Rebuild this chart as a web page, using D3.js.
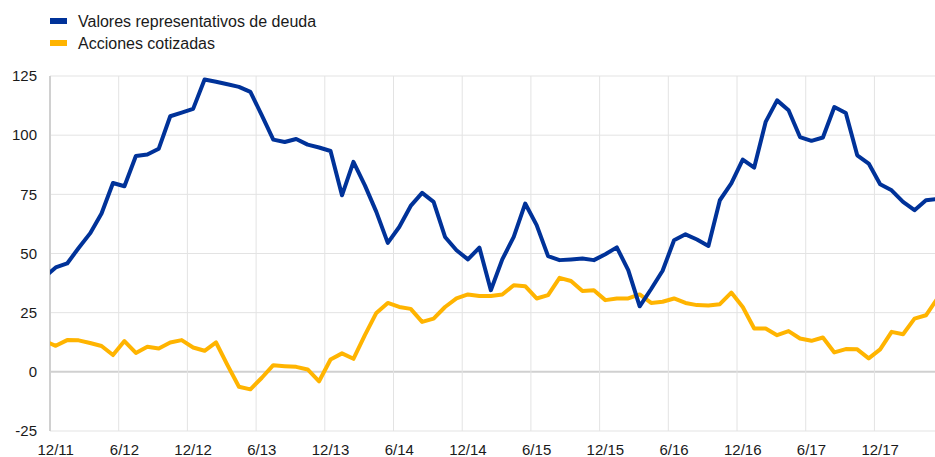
<!DOCTYPE html>
<html>
<head>
<meta charset="utf-8">
<script src="https://cdn.jsdelivr.net/npm/d3@7"></script>
<style>
  html, body { margin: 0; padding: 0; background: #fff; }
  svg { display: block; font-family: "Liberation Sans", Arial, sans-serif; }
</style>
</head>
<body>
<svg id="chart" width="935" height="457"></svg>
<script>
// Month index 0 = Dec 2011; first value is Nov 2011 (index -1), last is May 2018 (index 77)
const startIndex = -1;
const seriesNames = ["Valores representativos de deuda", "Acciones cotizadas"];
const seriesColors = ["#003299", "#FFB400"];
const debtSecurities = [
  40, 44.1, 45.8, 52.3, 58.5, 66.9, 79.8, 78.4, 91.2, 91.8,
  94.3, 108, 109.5, 111.1, 123.5, 122.6, 121.5, 120.4, 118.3, 108.4,
  98.1, 97.1, 98.4, 96, 94.8, 93.3, 74.6, 88.7, 78.8, 67.6,
  54.5, 61.2, 70.1, 75.6, 71.8, 57, 51.4, 47.5, 52.5, 34.5,
  47.5, 57, 71.1, 62, 48.9, 47.2, 47.5, 47.9, 47.2, 49.7,
  52.6, 43, 27.7, 35, 42.7, 55.6, 58.1, 55.9, 53.2, 72.5,
  79.6, 89.7, 86.3, 105.6, 114.7, 110.5, 99.2, 97.6, 99, 111.9,
  109.4, 91.5, 88, 79.3, 76.7, 71.8, 68.3, 72.5, 73
];
const listedShares = [
  13, 11, 13.4, 13.3, 12.2, 10.9, 7.1, 13, 8, 10.6,
  9.9, 12.4, 13.4, 10.3, 8.9, 12.4, 2.8, -6.3, -7.4, -2.5,
  2.8, 2.4, 2.1, 1, -4, 5.2, 7.8, 5.5, 15.5, 24.9,
  29.1, 27.4, 26.6, 21.1, 22.5, 27.4, 31, 32.7, 32, 32,
  32.7, 36.6, 36.2, 31, 32.4, 39.7, 38.4, 34.2, 34.5, 30.3,
  31, 31, 32.7, 29.1, 29.6, 31, 29.1, 28.2, 28, 28.6,
  33.5, 27.4, 18.3, 18.3, 15.5, 17.2, 14.1, 13.1, 14.5, 8.2,
  9.6, 9.5, 5.7, 9.5, 16.9, 15.9, 22.5, 23.9, 31
];
const xTickLabels = ["12/11", "6/12", "12/12", "6/13", "12/13", "6/14", "12/14", "6/15", "12/15", "6/16", "12/16", "6/17", "12/17"];
const xTickMonths = [0, 6, 12, 18, 24, 30, 36, 42, 48, 54, 60, 66, 72];
const yTicks = [-25, 0, 25, 50, 75, 100, 125];

const svg = d3.select("#chart");
const plotLeft = 50, plotRight = 935, plotTop = 76, plotBottom = 431;

const x = d3.scaleLinear().domain([0, 77.29]).range([plotLeft, plotRight]);
const y = d3.scaleLinear().domain([-25, 125]).range([plotBottom, plotTop]);

// clip
svg.append("defs").append("clipPath").attr("id", "plotclip")
  .append("rect").attr("x", plotLeft).attr("y", 0).attr("width", plotRight - plotLeft).attr("height", 457);

// horizontal gridlines
svg.append("g").selectAll("line").data(yTicks).join("line")
  .attr("x1", plotLeft).attr("x2", plotRight)
  .attr("y1", d => y(d)).attr("y2", d => y(d))
  .attr("stroke", d => d === 0 ? "#d0d0d0" : "#e3e3e3")
  .attr("stroke-width", d => d === 0 ? 2 : 1);

// vertical gridlines
svg.append("g").selectAll("line").data(xTickMonths.slice(1)).join("line")
  .attr("x1", d => x(d)).attr("x2", d => x(d))
  .attr("y1", plotTop).attr("y2", plotBottom)
  .attr("stroke", "#e3e3e3").attr("stroke-width", 1);

// left axis line
svg.append("line").attr("x1", plotLeft).attr("x2", plotLeft).attr("y1", plotTop).attr("y2", plotBottom)
  .attr("stroke", "#d0d0d0").attr("stroke-width", 2);

// y tick labels
svg.append("g").selectAll("text").data(yTicks).join("text")
  .attr("x", 37).attr("y", d => y(d)).attr("dy", "0.35em")
  .attr("text-anchor", "end").attr("font-size", 15).attr("fill", "#1a1a1a")
  .text(d => d);

// x tick labels
svg.append("g").selectAll("text").data(xTickMonths).join("text")
  .attr("x", (d) => x(d + 0.5)).attr("y", 455)
  .attr("text-anchor", "middle").attr("font-size", 15).attr("fill", "#1a1a1a")
  .text((d, i) => xTickLabels[i]);

const line = d3.line()
  .x((d, i) => x(startIndex + i + 0.5))
  .y(d => y(d));

const plot = svg.append("g").attr("clip-path", "url(#plotclip)");
plot.append("path").datum(listedShares)
  .attr("d", line).attr("fill", "none")
  .attr("stroke", seriesColors[1]).attr("stroke-width", 4)
  .attr("stroke-linejoin", "round");
plot.append("path").datum(debtSecurities)
  .attr("d", line).attr("fill", "none")
  .attr("stroke", seriesColors[0]).attr("stroke-width", 4)
  .attr("stroke-linejoin", "round");

// legend
const legend = svg.append("g");
seriesNames.forEach((name, i) => {
  const yy = 21 + i * 22;
  legend.append("rect").attr("x", 50).attr("y", yy - 3).attr("width", 17).attr("height", 6)
    .attr("fill", seriesColors[i]);
  legend.append("text").attr("x", 78).attr("y", yy + 5.5)
    .attr("font-size", 16).attr("fill", "#1a1a1a").text(name);
});
</script>
</body>
</html>
